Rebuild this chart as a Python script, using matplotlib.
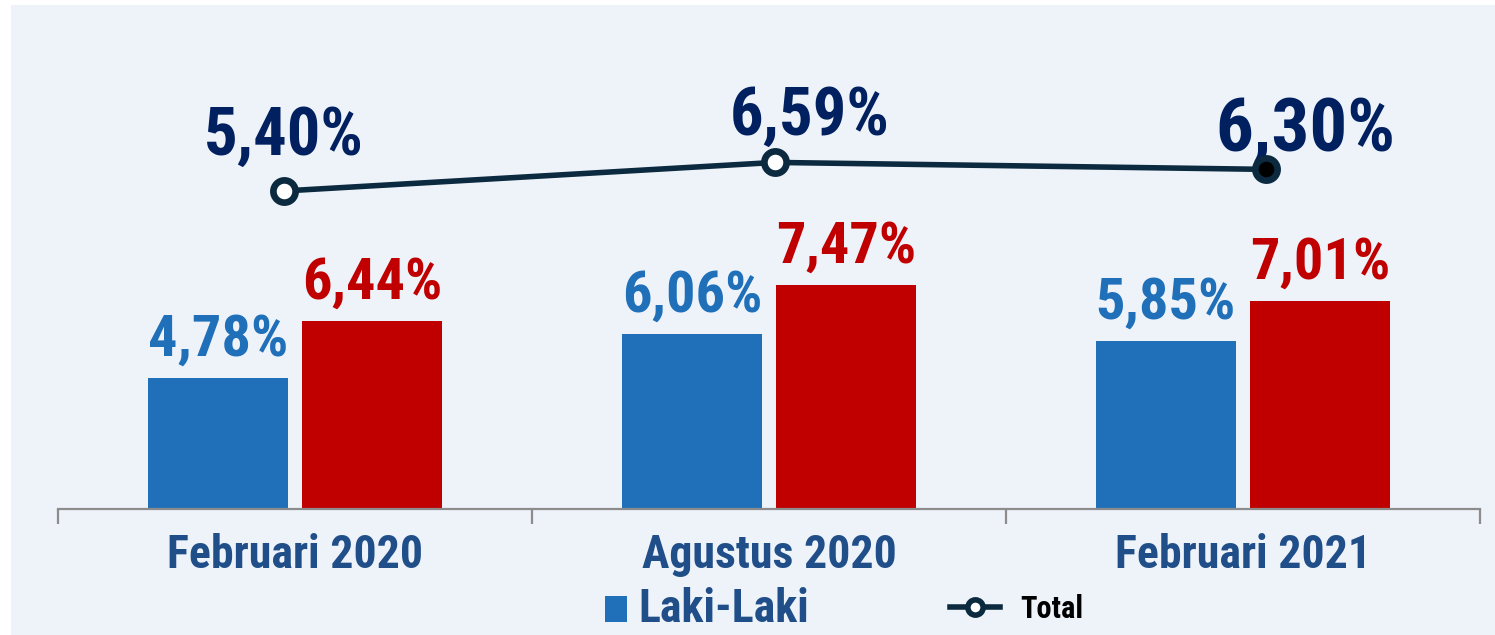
import matplotlib
matplotlib.use("Agg")
import matplotlib.pyplot as plt
from matplotlib.patches import Rectangle
from matplotlib.lines import Line2D

categories = ["Februari 2020", "Agustus 2020", "Februari 2021"]
laki = [4.78, 6.06, 5.85]
perempuan = [6.44, 7.47, 7.01]
total = [5.40, 6.59, 6.30]

def fmt(v):
    return f"{v:.2f}%".replace(".", ",")

FAM = ["Roboto Condensed", "DejaVu Sans"]

BG = "#EEF3FA"
BLUE = "#1F6FB9"
RED = "#C00000"
NAVY = "#002060"
CAT = "#1F4E89"
LINE = "#0B2A3F"

W, H = 1495, 635
fig = plt.figure(figsize=(W / 100, H / 100), dpi=100, facecolor="white")
fig.patches.append(Rectangle((11 / W, 0), (W - 11) / W, (H - 5) / H,
                             transform=fig.transFigure, facecolor=BG,
                             edgecolor="none", zorder=-10))

left, right, top, bottom = 58, 1480, 10, 509
rect = [left / W, (H - bottom) / H, (right - left) / W, (bottom - top) / H]
ax = fig.add_axes(rect)
ax.set_facecolor("none")

x = list(range(len(categories)))
bw = 0.295
off = 0.1625
ax.bar([i - off for i in x], laki, width=bw, color=BLUE, bottom=0, zorder=2)
ax.bar([i + off for i in x], perempuan, width=bw, color=RED, bottom=0, zorder=2)
ax.set_ylim(0.98, 15.44)
ax.set_xlim(-0.5, 2.5)

for i, v in enumerate(laki):
    ax.annotate(fmt(v), (i - off, v), xytext=(0, 22), textcoords="offset pixels",
                ha="center", va="baseline", fontsize=42, fontweight="bold",
                color=BLUE, family=FAM)
for i, v in enumerate(perempuan):
    ax.annotate(fmt(v), (i + off, v), xytext=(0, 22), textcoords="offset pixels",
                ha="center", va="baseline", fontsize=42, fontweight="bold",
                color=RED, family=FAM)

# line series on its own overlaid axes
ax2 = fig.add_axes(rect, sharex=None)
ax2.set_facecolor("none")
ax2.axis("off")
ax2.plot(x, total, color=LINE, lw=4, zorder=3)
ax2.plot(x[:2], total[:2], ls="none", marker="o", ms=16, mfc="white", mec=LINE, mew=4.8, zorder=4)
ax2.plot(x[2:], total[2:], ls="none", marker="o", ms=16, mfc="black", mec=LINE, mew=4.8, zorder=4)
ax2.set_xlim(-0.460, 2.436)
ax2.set_ylim(-7.85, 12.94)

tot_off = [(0, 36), (35, 28), (39, 19)]
tot_size = [48, 48, 54]
for i, v in enumerate(total):
    ax2.annotate(fmt(v), (i, v), xytext=tot_off[i], textcoords="offset pixels",
                 ha="center", va="baseline", fontsize=tot_size[i], fontweight="bold",
                 color=NAVY, family=FAM)

for s in ("top", "right", "left"):
    ax.spines[s].set_visible(False)
ax.set_yticks([])
ax.spines["bottom"].set_color("#8C8C8C")
ax.spines["bottom"].set_linewidth(1.6)

ax.set_xticks([-0.5, 0.5, 1.5, 2.5])
ax.set_xticklabels([])
ax.tick_params(axis="x", which="major", length=11, width=1.6, color="#8C8C8C", direction="out")
ax.set_xticks(x, minor=True)
ax.set_xticklabels(categories, minor=True)
ax.tick_params(axis="x", which="minor", length=0, pad=17)
for t in ax.get_xticklabels(minor=True):
    t.set_fontsize(33)
    t.set_fontweight("bold")
    t.set_color(CAT)
    t.set_family(FAM)

# legend (manual)
fig.patches.append(Rectangle((605 / W, (H - 622) / H), 22 / W, 26 / H,
                             transform=fig.transFigure, facecolor=BLUE, edgecolor="none"))
fig.text(638 / W, (H - 609) / H, "Laki-Laki", ha="left", va="center", fontsize=33,
         fontweight="bold", color=CAT, family=FAM)
fig.lines.append(Line2D([950 / W, 1000 / W], [(H - 607) / H] * 2, transform=fig.transFigure,
                        color=LINE, lw=4, marker="none"))
fig.lines.append(Line2D([975 / W], [(H - 607) / H], transform=fig.transFigure,
                        color=LINE, marker="o", ms=11, mfc="white", mec=LINE, mew=4))
fig.text(1020 / W, (H - 609) / H, "Total", ha="left", va="center", fontsize=22,
         fontweight="bold", color="black", family=FAM)

fig.savefig("out.png", dpi=100, facecolor="white")
